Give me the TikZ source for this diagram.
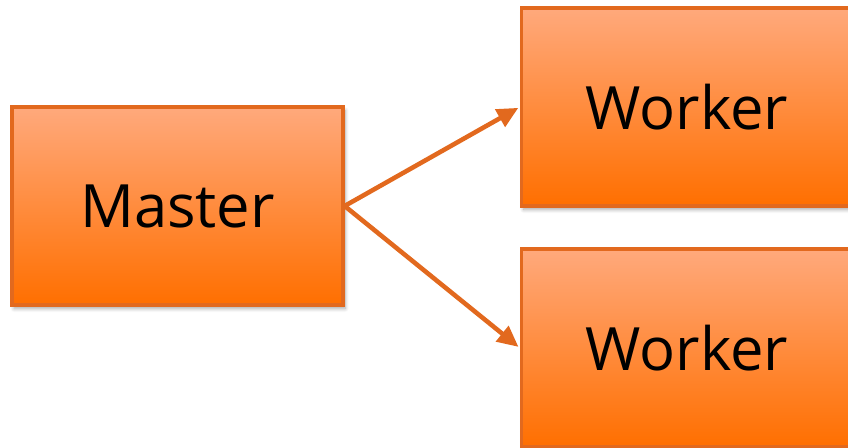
\documentclass[tikz,border=0pt]{standalone}
\usepackage{fontspec}
\setmainfont{Open Sans}
\usepackage{xcolor}
\usepackage{tikz}
\usetikzlibrary{arrows.meta, positioning, shadows.blur}

\definecolor{boxtop}{HTML}{FFA97C}
\definecolor{boxbottom}{HTML}{FF6F00}
\definecolor{boxline}{HTML}{E2691E}

\begin{document}
\begin{tikzpicture}[x=0.02cm,
					y=0.02cm,
					>={Triangle[length=12pt, width=11pt]},
					box/.style={draw=boxline,
						line width=1.9pt,
						top color=boxtop,
						bottom color=boxbottom,
						minimum width=6.62cm,
						minimum height=3.96cm,
						font=\fontsize{34}{40}\selectfont,
						blur shadow={shadow xshift=1.2pt, shadow yshift=-2pt, shadow blur steps=6, shadow opacity=35}},
					link/.style={->, draw=boxline, line width=2.6pt, shorten >=1pt}]

					\useasboundingbox (0,0) rectangle (848,448);
					\clip (0,0) rectangle (848,448);

					\node[box] (master) at (177.5,242) {Master};
					\node[box] (worker1) at (687,341) {Worker};
					\node[box] (worker2) at (687,100) {Worker};

					\draw[link] (master.east) -- (worker1.west);
					\draw[link] (master.east) -- (worker2.west);
				\end{tikzpicture}
\end{document}
